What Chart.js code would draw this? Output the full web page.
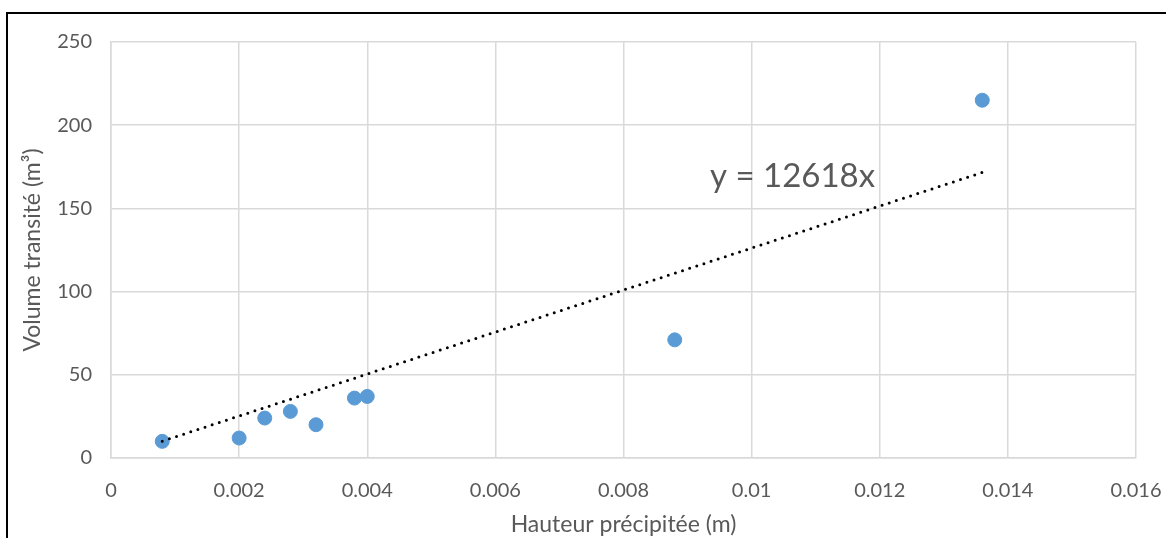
<!DOCTYPE html>
<html>
<head>
<meta charset="utf-8">
<script src="https://cdn.jsdelivr.net/npm/chart.js@4/dist/chart.umd.min.js"></script>
<style>
  html, body { margin: 0; padding: 0; background: #fff; overflow: hidden; }
  #wrap { position: relative; width: 1166px; height: 538px; }
  #frame { position: absolute; left: 6px; top: 12px; width: 1300px; height: 700px; border: 2px solid #000; box-sizing: border-box; }
  canvas { position: absolute; left: 0; top: 0; }
</style>
</head>
<body>
<div id="wrap">
  <div id="frame"></div>
  <canvas id="c" width="1166" height="538"></canvas>
</div>
<script>
// measured points
const hauteur = [0.0008, 0.002, 0.0024, 0.0028, 0.0032, 0.0038, 0.004, 0.0088, 0.0136];
const volume  = [10, 12, 24, 28, 20, 36, 37, 71, 215];

// linear trendline through origin, y = 12618x, drawn between first and last x
const trendX = [0.0008, 0.0136];
const trendY = [10.1, 171.6];
const trendLabel = 'y = 12618x';

const grey = '#595959';
const font = 'Lato';

const eqLabel = {
    id: 'eqLabel',
    afterDatasetsDraw(chart) {
        const ctx = chart.ctx;
        const x = chart.scales.x.getPixelForValue(0.00935);
        const y = chart.scales.y.getPixelForValue(169.5);
        ctx.save();
        ctx.font = '33px ' + font;
        ctx.fillStyle = grey;
        ctx.textAlign = 'left';
        ctx.textBaseline = 'middle';
        ctx.fillText(trendLabel, x, y);
        ctx.restore();
    }
};

new Chart(document.getElementById('c'), {
    type: 'scatter',
    data: {
        datasets: [
        {
            data: hauteur.map((v, i) => ({ x: v, y: volume[i] })),
            backgroundColor: '#5b9bd5',
            borderColor: '#5b9bd5',
            pointRadius: 7,
            order: 2
        },
        {
            type: 'line',
            data: trendX.map((v, i) => ({ x: v, y: trendY[i] })),
            borderColor: '#000',
            borderWidth: 3,
            borderDash: [0, 7.5],
            borderCapStyle: 'round',
            pointRadius: 0,
            fill: false,
            order: 1
        }
        ]
    },
    options: {
        responsive: false,
        animation: false,
        layout: { padding: { top: 42, right: 30, left: 0, bottom: 0 } },
        plugins: { legend: { display: false }, tooltip: { enabled: false } },
        scales: {
            x: {
                type: 'linear',
                min: 0,
                max: 0.016,
                ticks: {
                    stepSize: 0.002,
                    color: grey,
                    font: { family: font, size: 20 },
                    padding: 21,
                    callback: v => String(+v.toFixed(4))
                },
                grid: { color: '#d9d9d9', lineWidth: 1.5, drawTicks: false },
                border: { color: '#d9d9d9', width: 1.5 },
                title: {
                    display: true,
                    text: 'Hauteur précipitée (m)',
                    color: grey,
                    font: { family: font, size: 23 },
                    padding: { top: 0, bottom: 0 }
                },
                afterFit: s => { s.height = 80; s.paddingLeft = 0; s.paddingRight = 0; }
            },
            y: {
                min: 0,
                max: 250,
                ticks: {
                    stepSize: 50,
                    color: grey,
                    font: { family: font, size: 20 },
                    padding: 19
                },
                grid: { color: '#d9d9d9', lineWidth: 1.5, drawTicks: false },
                border: { color: '#d9d9d9', width: 1.5 },
                title: {
                    display: true,
                    text: 'Volume transité (m³)',
                    color: grey,
                    font: { family: font, size: 23 },
                    padding: { top: 19, bottom: 0 }
                },
                afterFit: s => { s.width = 111; s.paddingTop = 0; s.paddingBottom = 0; }
            }
        }
    },
    plugins: [eqLabel]
});
</script>
</body>
</html>
